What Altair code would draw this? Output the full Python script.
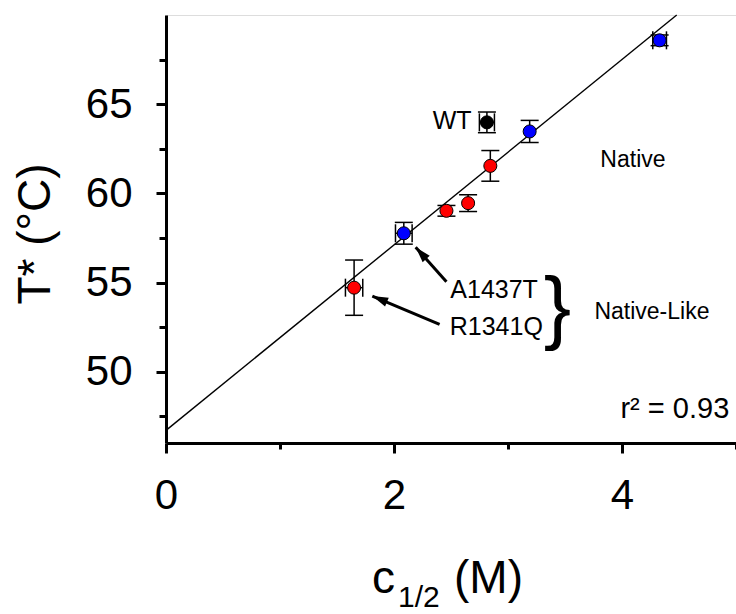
import altair as alt
import pandas as pd

# ---- data ----
c_half = [1.65, 2.086, 2.46, 2.65, 2.845, 2.815, 3.19, 4.33]
t_star = [54.71, 57.76, 59.02, 59.45, 61.54, 63.98, 63.47, 68.58]
t_err = [1.55, 0.61, 0.30, 0.47, 0.86, 0.58, 0.62, 0.30]
c_err = [0.076, 0.073, 0.0, 0.0, 0.0, 0.066, 0.0, 0.06]
kind = ["red", "blue", "red", "red", "red", "wt", "blue", "blue"]

fit_c = [0.0, 4.48]
fit_t = [46.71, 70.0]

ann_text = ["WT", "A1437T", "R1341Q"]
ann_c = [2.68, 3.262, 3.306]
ann_t = [64.03, 54.58, 52.52]

reg_text = ["Native", "Native-Like"]
reg_c = [3.81, 3.758]
reg_t = [61.88, 53.34]

arrow_c0 = [2.46, 2.40]
arrow_t0 = [55.04, 52.65]
arrow_c1 = [2.19, 1.81]
arrow_t1 = [56.98, 54.24]
arrow_angle = [318.2, 292.8]

brace_c = [3.434]
brace_t = [53.51]

r2_text = ["r\u00b2 = 0.93"]
r2_c = [4.941]
r2_t = [47.39]

x_ticks = [0, 1, 2, 3, 4, 5]
y_ticks = [47.5, 50, 52.5, 55, 57.5, 60, 62.5, 65, 67.5]

FONT = "Liberation Sans"

pts = pd.DataFrame({"c": c_half, "t": t_star, "te": t_err, "ce": c_err, "kind": kind})
pts["lo"] = pts["t"] - pts["te"]
pts["hi"] = pts["t"] + pts["te"]
pts["clo"] = pts["c"] - pts["ce"]
pts["chi"] = pts["c"] + pts["ce"]
hpts = pts[pts["ce"] > 0]

xs = alt.Scale(domain=[0, 5], nice=False, zero=False)
ys = alt.Scale(domain=[46, 70], nice=False, zero=False)

x_axis = alt.Axis(
    values=x_ticks, title=None, grid=False, labelFlush=False,
    labelExpr="datum.value % 2 == 0 ? format(datum.value, 'd') : ''",
    tickSize={"condition": {"test": "datum.value % 2 == 0", "value": 10}, "value": 6},
    labelPadding=22, labelFontSize=42, labelFont=FONT, labelColor="black",
    domainColor="black", domainWidth=3, tickColor="black", tickWidth=3,
)
y_axis = alt.Axis(
    values=y_ticks, title=None, grid=False, labelFlush=False,
    labelExpr="datum.value % 5 == 0 ? format(datum.value, 'd') : ''",
    tickSize={"condition": {"test": "datum.value % 5 == 0", "value": 10}, "value": 7},
    labelPadding=24, labelFontSize=42, labelFont=FONT, labelColor="black",
    domainColor="black", domainWidth=3, tickColor="black", tickWidth=3,
)

base = alt.Chart(pts)

fit = alt.Chart(pd.DataFrame({"c": fit_c, "t": fit_t})).mark_line(
    color="black", strokeWidth=1.4
).encode(
    x=alt.X("c:Q", scale=xs, axis=x_axis),
    y=alt.Y("t:Q", scale=ys, axis=y_axis),
)

vbar = base.mark_rule(color="black", strokeWidth=1.5).encode(
    x="c:Q", y="lo:Q", y2="hi:Q")
vcap_lo = base.mark_tick(orient="horizontal", size=18, thickness=1.5, color="black", opacity=1).encode(
    x="c:Q", y="lo:Q")
vcap_hi = base.mark_tick(orient="horizontal", size=18, thickness=1.5, color="black", opacity=1).encode(
    x="c:Q", y="hi:Q")

hb = alt.Chart(hpts)
hbar = hb.mark_rule(color="black", strokeWidth=1.5).encode(
    x="clo:Q", x2="chi:Q", y="t:Q")
hcap_lo = hb.mark_tick(orient="vertical", size=18, thickness=1.5, color="black", opacity=1).encode(
    x="clo:Q", y="t:Q")
hcap_hi = hb.mark_tick(orient="vertical", size=18, thickness=1.5, color="black", opacity=1).encode(
    x="chi:Q", y="t:Q")

dots = base.mark_circle(size=170, stroke="black", strokeWidth=1, opacity=1).encode(
    x="c:Q", y="t:Q",
    color=alt.Color("kind:N", scale=alt.Scale(domain=["red", "blue", "wt"],
                                              range=["#FF0000", "#0000FF", "#000000"]),
                    legend=None),
)

arr = pd.DataFrame({"c0": arrow_c0, "t0": arrow_t0, "c1": arrow_c1, "t1": arrow_t1, "ang": arrow_angle})
arrow_lines = alt.Chart(arr).mark_rule(color="black", strokeWidth=3).encode(
    x="c0:Q", y="t0:Q", x2="c1:Q", y2="t1:Q")
arrow_heads = alt.Chart(arr).mark_point(
    shape="M0,0L0.6,2L-0.6,2Z", filled=True, color="black", size=250, opacity=1
).encode(x="c1:Q", y="t1:Q", angle=alt.Angle("ang:Q", scale=None))

ann = alt.Chart(pd.DataFrame({"txt": ann_text, "c": ann_c, "t": ann_t})).mark_text(
    align="right", baseline="middle", font=FONT, fontSize=25, color="black"
).encode(x="c:Q", y="t:Q", text="txt:N")

reg = alt.Chart(pd.DataFrame({"txt": reg_text, "c": reg_c, "t": reg_t})).mark_text(
    align="left", baseline="middle", font=FONT, fontSize=23, color="black"
).encode(x="c:Q", y="t:Q", text="txt:N")

brace = alt.Chart(pd.DataFrame({"txt": ["}"], "c": brace_c, "t": brace_t})).mark_text(
    align="center", baseline="middle", font=FONT, fontSize=82, color="black"
).encode(x="c:Q", y="t:Q", text="txt:N")

r2 = alt.Chart(pd.DataFrame({"txt": r2_text, "c": r2_c, "t": r2_t})).mark_text(
    align="right", baseline="alphabetic", font=FONT, fontSize=29, color="black"
).encode(x="c:Q", y="t:Q", text="txt:N")

one = pd.DataFrame({"k": [0]})
ytitle = alt.Chart(one).mark_text(
    text="T* (\u00b0C)", angle=270, align="center", baseline="middle",
    font=FONT, fontSize=46, color="black"
).encode(x=alt.value(-130), y=alt.value(219))
xt_c = alt.Chart(one).mark_text(
    text="c", align="left", baseline="alphabetic", font=FONT, fontSize=46, color="black"
).encode(x=alt.value(206), y=alt.value(578))
xt_sub = alt.Chart(one).mark_text(
    text="1/2", align="left", baseline="alphabetic", font=FONT, fontSize=30, color="black"
).encode(x=alt.value(232), y=alt.value(592))
xt_m = alt.Chart(one).mark_text(
    text="(M)", align="left", baseline="alphabetic", font=FONT, fontSize=46, color="black"
).encode(x=alt.value(288), y=alt.value(578))

chart = alt.layer(
    fit, vbar, vcap_lo, vcap_hi, hbar, hcap_lo, hcap_hi, dots,
    arrow_lines, arrow_heads, ann, reg, brace, r2,
    ytitle, xt_c, xt_sub, xt_m,
).properties(
    width=570, height=428,
    padding={"left": 166, "top": 15, "right": 0, "bottom": 171},
    autosize=alt.AutoSizeParams(type="none"),
).configure_view(stroke="transparent").configure(background="white")

chart.save("out.html", embed_options={"renderer": "svg", "actions": False})
